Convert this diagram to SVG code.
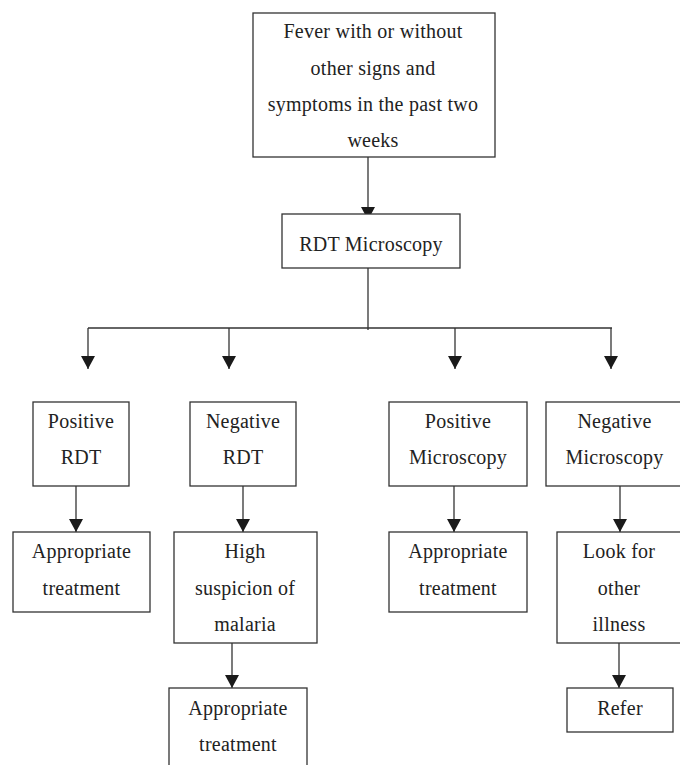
<svg xmlns="http://www.w3.org/2000/svg" width="680" height="765" viewBox="0 0 680 765">
<defs>
<marker id="ah" markerUnits="userSpaceOnUse" markerWidth="13" markerHeight="14" refX="13" refY="7" orient="auto">
<path d="M0,0 L13,7 L0,14 z" fill="#1a1a1a"/>
</marker>
<style>
.box{fill:#fff;stroke:#333;stroke-width:1.3}
.t{font-family:"Liberation Serif","Times New Roman",serif;font-size:20px;letter-spacing:0.25px;fill:#222;text-anchor:middle}
.c{fill:none;stroke:#333;stroke-width:1.3}
</style>
</defs>
<rect width="680" height="765" fill="#fff"/>
<g id="connectors">
<path class="c" d="M368 157 V220" marker-end="url(#ah)"/>
<path class="c" d="M368 268 V330"/>
<path class="c" d="M88 328 H612"/>
<path class="c" d="M88 328 V369" marker-end="url(#ah)"/>
<path class="c" d="M229 328 V369" marker-end="url(#ah)"/>
<path class="c" d="M455 328 V369" marker-end="url(#ah)"/>
<path class="c" d="M611 328 V369" marker-end="url(#ah)"/>
<path class="c" d="M76 486 V532" marker-end="url(#ah)"/>
<path class="c" d="M243 486 V532" marker-end="url(#ah)"/>
<path class="c" d="M454 486 V532" marker-end="url(#ah)"/>
<path class="c" d="M620 486 V532" marker-end="url(#ah)"/>
<path class="c" d="M232 643 V688" marker-end="url(#ah)"/>
<path class="c" d="M619 643 V688" marker-end="url(#ah)"/>
</g>
<g id="fever">
<rect class="box" x="253" y="13" width="242" height="144"/>
<text class="t" x="373" y="38">Fever with or without</text>
<text class="t" x="373" y="74.5">other signs and</text>
<text class="t" x="373" y="110.5">symptoms in the past two</text>
<text class="t" x="373" y="147">weeks</text>
</g>
<g id="rdt-microscopy">
<rect class="box" x="282" y="214" width="178" height="54"/>
<text class="t" x="371" y="250.5">RDT Microscopy</text>
</g>
<g id="positive-rdt">
<rect class="box" x="33" y="402" width="96" height="84"/>
<text class="t" x="81" y="428">Positive</text>
<text class="t" x="81" y="464">RDT</text>
</g>
<g id="negative-rdt">
<rect class="box" x="190" y="402" width="106" height="84"/>
<text class="t" x="243" y="428">Negative</text>
<text class="t" x="243" y="464">RDT</text>
</g>
<g id="positive-microscopy">
<rect class="box" x="389" y="402" width="138" height="84"/>
<text class="t" x="458" y="428">Positive</text>
<text class="t" x="458" y="464">Microscopy</text>
</g>
<g id="negative-microscopy">
<rect class="box" x="546" y="402" width="137" height="84"/>
<text class="t" x="614.5" y="428">Negative</text>
<text class="t" x="614.5" y="464">Microscopy</text>
</g>
<g id="treatment-1">
<rect class="box" x="13" y="532" width="137" height="80"/>
<text class="t" x="81.5" y="558">Appropriate</text>
<text class="t" x="81.5" y="595">treatment</text>
</g>
<g id="high-suspicion">
<rect class="box" x="174" y="532" width="143" height="111"/>
<text class="t" x="245" y="558">High</text>
<text class="t" x="245" y="595">suspicion of</text>
<text class="t" x="245" y="631">malaria</text>
</g>
<g id="treatment-2">
<rect class="box" x="389" y="532" width="138" height="80"/>
<text class="t" x="458" y="558">Appropriate</text>
<text class="t" x="458" y="595">treatment</text>
</g>
<g id="look-for-other">
<rect class="box" x="557" y="532" width="124" height="111"/>
<text class="t" x="619" y="558">Look for</text>
<text class="t" x="619" y="595">other</text>
<text class="t" x="619" y="631">illness</text>
</g>
<g id="treatment-3">
<rect class="box" x="169" y="688" width="138" height="90"/>
<text class="t" x="238" y="715">Appropriate</text>
<text class="t" x="238" y="751">treatment</text>
</g>
<g id="refer">
<rect class="box" x="567" y="688" width="106" height="44"/>
<text class="t" x="620" y="715">Refer</text>
</g>
</svg>
